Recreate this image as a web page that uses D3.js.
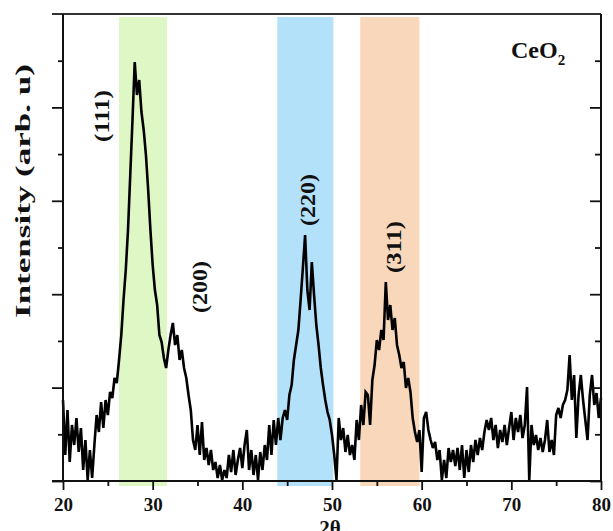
<!DOCTYPE html>
<html>
<head>
<meta charset="utf-8">
<script src="https://cdn.jsdelivr.net/npm/d3@7"></script>
<style>
  html, body { margin: 0; padding: 0; background: #fff; }
  svg { display: block; }
  text { font-family: "Liberation Serif", "Times New Roman", serif; font-weight: bold; fill: #111; }
</style>
</head>
<body>
<div id="chart"></div>
<script>
// XRD pattern of CeO2: intensity sampled every 0.25 degrees from 2θ = 20 to 80
const twoThetaStart = 20;
const twoThetaStep = 0.25;
const intensity = [
  81, 26, 71, 19, 56, 36, 63, 29, 53, 11, 41, 1, 31, 3, 36, 66, 49, 79, 53, 81,
  66, 89, 83, 103, 98, 121, 146, 181, 211, 251, 306, 361, 419, 386, 401, 369, 351, 326, 291, 251,
  216, 191, 176, 146, 139, 123, 113, 131, 146, 158, 136, 146, 121, 131, 113, 103, 86, 71, 41, 31,
  56, 26, 59, 21, 33, 16, 31, 11, 19, 3, 16, 1, 11, 3, 26, 9, 31, 6, 21, 33,
  13, 36, 51, 11, 31, 6, 26, 1, 29, 11, 36, 21, 56, 26, 61, 36, 63, 41, 63, 71,
  61, 86, 96, 121, 136, 151, 181, 213, 246, 191, 171, 219, 186, 156, 136, 113, 96, 81, 69, 61,
  46, 26, 1, 63, 41, 53, 29, 46, 26, 36, 21, 61, 41, 76, 56, 89, 86, 56, 101, 116,
  141, 131, 151, 141, 199, 161, 176, 151, 163, 136, 126, 113, 119, 93, 103, 89, 63, 49, 39, 51,
  9, 63, 69, 51, 41, 33, 39, 21, 31, 1, 21, 3, 33, 19, 31, 15, 33, 11, 36, 3,
  31, 9, 36, 19, 41, 26, 43, 31, 49, 61, 51, 63, 41, 56, 33, 51, 39, 56, 36, 53,
  69, 41, 63, 49, 66, 43, 56, 94, 1, 56, 36, 46, 31, 43, 29, 41, 61, 29, 41, 26,
  66, 73, 63, 76, 81, 91, 126, 81, 106, 43, 86, 106, 81, 61, 41, 86, 106, 76, 88, 63,
  83
];

// highlighted 2θ windows around the main reflections
const bandStart = [26.25, 43.9, 53.15];
const bandEnd = [31.6, 50.15, 59.75];
const bandColors = ["#def7c5", "#b4e1fa", "#f9d7bb"];

// Miller index labels with their 2θ and intensity positions
const peakLabels = ["(111)", "(200)", "(220)", "(311)"];
const peakLabelTheta = [24.35, 35.3, 47.33, 56.95];
const peakLabelIntensity = [365, 194, 281, 234];

const xTicksMajor = [20, 30, 40, 50, 60, 70, 80];
const xTicksMinor = [25, 35, 45, 55, 65, 75];
const yTicksMajor = [0, 93.4, 186.8, 280.2, 373.6];
const yTicksMinor = [46.7, 140.1, 233.5, 326.9, 420.3];

const W = 613, H = 531;
const svg = d3.select("#chart").append("svg").attr("width", W).attr("height", H);

const x = d3.scaleLinear().domain([20, 80]).range([63, 601]);
const y = d3.scaleLinear().domain([0, 467]).range([481, 14]);

const data = intensity.map((v, i) => ({ t: twoThetaStart + i * twoThetaStep, v }));

// coloured bands
svg.append("g").selectAll("rect")
  .data(bandStart.map((s, i) => ({ s, e: bandEnd[i], c: bandColors[i] })))
  .join("rect")
  .attr("x", d => x(d.s))
  .attr("width", d => x(d.e) - x(d.s))
  .attr("y", y(467) + 3)
  .attr("height", y(0) + 5 - (y(467) + 3))
  .attr("fill", d => d.c);

// pattern trace
svg.append("path")
  .datum(data)
  .attr("fill", "none")
  .attr("stroke", "#000")
  .attr("stroke-width", 2.6)
  .attr("stroke-linejoin", "miter")
  .attr("stroke-miterlimit", 3)
  .attr("d", d3.line().x(d => x(d.t)).y(d => y(d.v)));

// axes
function styleAxis(g) {
  g.select(".domain").remove();
  g.selectAll("line").attr("stroke", "#111").attr("stroke-width", 1.8);
}
svg.append("g").attr("transform", `translate(0,${y(0)})`)
  .call(d3.axisBottom(x).tickValues(xTicksMajor).tickSize(9).tickFormat(d3.format("d")))
  .call(styleAxis)
  .call(g => g.selectAll("text").attr("dy", null).attr("y", 30)
    .style("font-size", "19px").style("font-family", "'Liberation Serif', serif").style("font-weight", "bold").attr("fill", "#111"));
svg.append("g").attr("transform", `translate(0,${y(0)})`)
  .call(d3.axisBottom(x).tickValues(xTicksMinor).tickSize(5).tickFormat(""))
  .call(styleAxis);

svg.append("g").attr("transform", `translate(${x(20)},0)`)
  .call(d3.axisLeft(y).tickValues(yTicksMajor).tickSize(11).tickFormat(""))
  .call(styleAxis);
svg.append("g").attr("transform", `translate(${x(20)},0)`)
  .call(d3.axisLeft(y).tickValues(yTicksMinor).tickSize(5).tickFormat(""))
  .call(styleAxis);
svg.append("g").attr("transform", `translate(${x(80)},0)`)
  .call(d3.axisRight(y).tickValues(yTicksMajor).tickSize(-11).tickFormat(""))
  .call(styleAxis);
svg.append("g").attr("transform", `translate(${x(80)},0)`)
  .call(d3.axisRight(y).tickValues(yTicksMinor).tickSize(-6).tickFormat(""))
  .call(styleAxis);

// frame
const frame = svg.append("g").attr("stroke", "#111").attr("stroke-width", 2);
frame.append("line").attr("x1", x(20) - 11).attr("x2", x(80)).attr("y1", y(467)).attr("y2", y(467)).attr("stroke", "#333");
frame.append("line").attr("x1", x(20) - 11).attr("x2", x(80)).attr("y1", y(0)).attr("y2", y(0));
frame.append("line").attr("x1", x(20)).attr("x2", x(20)).attr("y1", y(467)).attr("y2", y(0));
frame.append("line").attr("x1", x(80)).attr("x2", x(80)).attr("y1", y(467)).attr("y2", y(0));

// reflection labels
svg.append("g").selectAll("text")
  .data(peakLabels.map((t, i) => ({ t, th: peakLabelTheta[i], v: peakLabelIntensity[i] })))
  .join("text")
  .attr("transform", d => `translate(${x(d.th) + 7},${y(d.v)}) rotate(-90)`)
  .attr("text-anchor", "middle")
  .attr("textLength", 52)
  .attr("lengthAdjust", "spacingAndGlyphs")
  .style("font-size", "20px")
  .text(d => d.t);

// axis titles
svg.append("text")
  .attr("transform", `translate(30,191) rotate(-90)`)
  .attr("text-anchor", "middle")
  .attr("textLength", 254)
  .attr("lengthAdjust", "spacingAndGlyphs")
  .style("font-size", "21px")
  .text("Intensity (arb. u)");

svg.append("text")
  .attr("x", 330).attr("y", 535)
  .attr("text-anchor", "middle")
  .style("font-size", "21px")
  .text("2θ");

// compound label
const ce = svg.append("text").attr("x", 511).attr("y", 58).style("font-size", "24px");
ce.append("tspan").text("CeO");
ce.append("tspan").attr("dy", 7).style("font-size", "15px").text("2");
</script>
</body>
</html>
